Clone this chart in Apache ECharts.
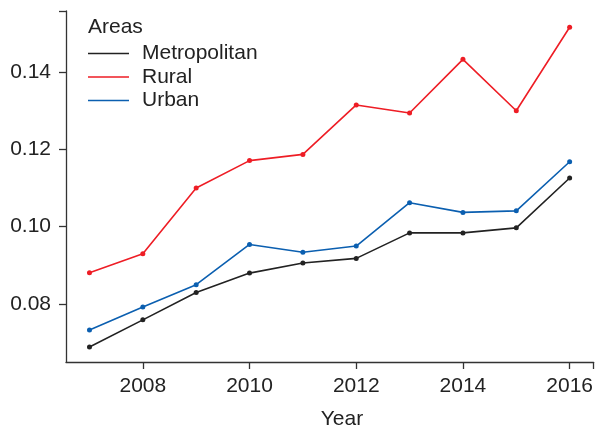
<!DOCTYPE html>
<html>
<head>
<meta charset="utf-8">
<script src="https://cdn.jsdelivr.net/npm/echarts@6/dist/echarts.min.js"></script>
<style>
html,body{margin:0;padding:0;background:#fff;}
#c{width:596px;height:431px;}
</style>
</head>
<body>
<div id="c"></div>
<script>
var years = [2007, 2008, 2009, 2010, 2011, 2012, 2013, 2014, 2015, 2016];
var metropolitan = [0.0689, 0.0759, 0.0830, 0.0880, 0.0906, 0.0918, 0.0984, 0.0984, 0.0997, 0.1126];
var rural = [0.0881, 0.0930, 0.1100, 0.1171, 0.1187, 0.1315, 0.1294, 0.1433, 0.1300, 0.1516];
var urban = [0.0733, 0.0792, 0.0850, 0.0954, 0.0934, 0.0950, 0.1062, 0.1037, 0.1041, 0.1168];
var yTicks = [0.08, 0.10, 0.12, 0.14];
var xTicks = [2008, 2010, 2012, 2014, 2016];
var seriesNames = ['Metropolitan', 'Rural', 'Urban'];

var Y_MIN = 0.065, Y_MAX = 0.1558, X_MIN = 2006.56, X_MAX = 2016.45;
var FONT = 'Liberation Sans';
var TXT = '#222';

function pairs(vals) { return years.map(function (y, i) { return [y, vals[i]]; }); }

var colors = ['#222222', '#ee1d25', '#0b5fb0'];
var datas = [metropolitan, rural, urban];

var chart = echarts.init(document.getElementById('c'), null, {renderer: 'canvas'});
chart.setOption({
  animation: false,
  backgroundColor: '#fff',
  grid: {left: 66, right: 1, top: 11, bottom: 69},
  title: {
    text: 'Areas', left: 88, top: 17, padding: 0,
    textStyle: {fontFamily: FONT, fontSize: 21, fontWeight: 'normal', color: TXT}
  },
  legend: {
    orient: 'vertical', left: 88, top: 43, padding: 0,
    icon: 'rect', itemWidth: 41, itemHeight: 1.5, itemGap: 2.5,
    data: seriesNames,
    textStyle: {fontFamily: FONT, fontSize: 21, color: TXT, lineHeight: 21, padding: [0, 0, 0, 8]}
  },
  xAxis: {
    type: 'value', min: X_MIN, max: X_MAX,
    splitLine: {show: false},
    axisLine: {show: true, lineStyle: {color: '#333', width: 1.3}},
    axisTick: {show: true, length: 7, lineStyle: {color: '#333', width: 1.3}, customValues: xTicks.concat([X_MAX])},
    axisLabel: {customValues: xTicks, fontFamily: FONT, fontSize: 21, color: TXT, margin: 14,
      formatter: function (v) { return String(Math.round(v)); }}
  },
  yAxis: {
    type: 'value', min: Y_MIN, max: Y_MAX,
    splitLine: {show: false},
    axisLine: {show: true, lineStyle: {color: '#333', width: 1.3}},
    axisTick: {show: true, length: 7, lineStyle: {color: '#333', width: 1.3}, customValues: yTicks.concat([Y_MAX])},
    axisLabel: {customValues: yTicks, fontFamily: FONT, fontSize: 21, color: TXT, margin: 15,
      formatter: function (v) { return v.toFixed(2); }}
  },
  graphic: [{
    type: 'text', x: 342, y: 419,
    style: {text: 'Year', font: '21px "Liberation Sans"', fill: TXT, align: 'center', verticalAlign: 'middle'}
  }],
  series: seriesNames.map(function (n, i) {
    return {
      name: n, type: 'line', data: pairs(datas[i]),
      color: colors[i],
      symbol: 'circle', symbolSize: 5,
      lineStyle: {width: 1.6, color: colors[i]},
      itemStyle: {color: colors[i]}
    };
  })
});
</script>
</body>
</html>
